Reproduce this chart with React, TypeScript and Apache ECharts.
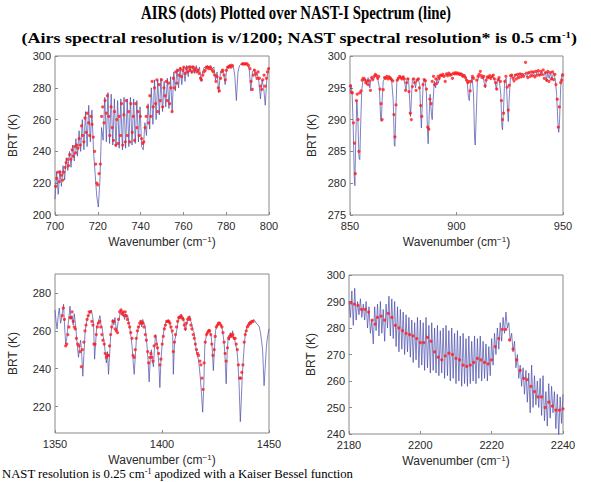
import React, { useEffect, useRef } from "react";
import * as echarts from "echarts";

// ---------- Panel 1: 700-800 cm-1 ----------
const tlStart = 700;
const tlStep = 0.75;
const tlNastBrt = [
  210, 227, 213, 228, 218, 231, 222, 236, 228, 240, 230, 244, 234, 248, 237, 253, 240, 260, 241, 265,
  243, 269, 246, 266, 240, 226, 212, 205, 222, 255, 247, 274, 246, 277, 245, 276, 244, 273, 243, 272,
  242, 273, 241, 274, 242, 273, 243, 274, 244, 273, 245, 272, 246, 268, 243, 241, 258, 250, 270, 254,
  280, 257, 285, 260, 285, 263, 286, 265, 284, 268, 286, 267, 287, 265, 290, 278, 292, 280, 293, 282,
  293, 284, 294, 287, 294, 289, 294, 289, 294, 290, 293, 284, 290, 293, 292, 294, 293, 294, 292, 293,
  285, 290, 277, 289, 292, 290, 282, 292, 294, 294, 295, 294, 288, 272, 290, 294, 295, 295, 295, 295,
  294, 292, 278, 290, 292, 287, 289, 284, 273, 285, 280, 269, 286, 292,
];
const tlAirs = [
  [700.3, 218], [700.8, 223], [701.3, 227], [701.9, 221], [702.4, 227], [703, 225], [703.6, 222], [704.1, 227],
  [704.7, 230], [705.2, 233], [705.8, 235], [706.3, 231], [706.9, 238], [707.4, 235], [708, 241], [708.5, 237],
  [709.1, 243], [709.6, 239], [710.2, 244], [710.7, 242], [711.3, 248], [711.8, 244], [712.4, 256], [712.9, 250],
  [713.5, 246], [714, 261], [714.6, 252], [715.1, 264], [715.7, 258], [716.2, 250], [716.8, 262], [717.3, 257],
  [717.9, 249], [718.5, 240], [719, 232], [719.5, 220], [720, 219], [720.6, 226], [721.2, 232], [721.8, 262],
  [722.3, 268], [722.9, 258], [723.4, 272], [724, 264], [724.5, 275], [725.1, 262], [725.6, 250], [726.2, 268],
  [726.7, 255], [727.3, 247], [727.8, 265], [728.4, 244], [728.9, 260], [729.5, 245], [730, 262], [730.6, 250],
  [731.1, 270], [731.7, 244], [732.2, 263], [732.8, 246], [733.3, 272], [733.9, 250], [734.4, 265], [735, 246],
  [735.5, 270], [736.1, 252], [736.6, 262], [737.2, 247], [737.7, 270], [738.3, 255], [738.8, 265], [739.4, 250],
  [739.9, 262], [740.5, 248], [741, 245], [741.5, 246], [742.1, 255], [742.6, 262], [743.2, 268], [743.7, 258],
  [744.3, 275], [744.8, 262], [745.4, 284], [745.9, 268], [746.5, 280], [747, 270], [747.6, 285], [748.1, 265],
  [748.7, 282], [749.2, 272], [749.8, 285], [750.3, 268], [750.9, 280], [751.4, 275], [752, 284], [752.5, 272],
  [753.1, 283], [753.6, 270], [754.2, 280], [754.7, 265], [755.3, 286], [755.8, 280], [756.4, 290], [756.9, 283],
  [757.5, 291], [758, 288], [758.6, 292], [759.1, 287], [759.7, 291], [760.2, 293], [760.8, 289], [761.3, 292],
  [761.9, 290], [762.4, 293], [763, 291], [763.5, 293], [764.1, 290], [764.6, 293], [765.2, 291], [765.7, 292],
  [766.3, 290], [766.8, 291], [767.4, 289], [768, 286], [768.5, 285], [769.1, 288], [769.6, 290], [770.2, 291],
  [770.7, 293], [771.3, 293], [771.8, 292], [772.4, 293], [772.9, 292], [773.5, 291], [774, 290], [774.6, 288],
  [775.2, 284], [775.7, 287], [776.3, 280], [776.8, 278], [777.4, 286], [777.9, 290], [778.5, 291], [779, 288],
  [779.6, 285], [780.1, 291], [780.7, 293], [781.2, 293], [781.8, 294], [782.3, 293], [782.9, 294], [787.5, 295],
  [788, 295], [788.6, 295], [789.2, 295], [789.8, 295], [790.5, 294], [791.1, 292], [791.6, 284], [792.2, 279],
  [792.7, 288], [793.3, 291], [793.8, 289], [794.4, 286], [794.9, 290], [795.5, 286], [796, 281], [796.6, 279],
  [797.1, 285], [797.7, 288], [798.2, 281], [798.8, 286], [799.3, 290], [799.8, 292],
];

// ---------- Panel 2: 850-950 cm-1 ----------
const trNast = [
  [850, 294.5], [850.5, 295.5], [851, 294], [851.5, 289], [852, 281], [852.3, 279.6], [852.7, 287], [853.2, 293],
  [853.7, 290], [854.2, 284], [854.6, 283.7], [855, 289], [855.5, 294.5], [856, 296], [857, 296.6], [857.8, 295.5],
  [858.5, 296.6], [859.3, 295], [860, 296.7], [861, 296.3], [862, 296.9], [863, 296.5], [863.8, 295], [864.4, 290],
  [864.7, 289.7], [865.1, 293], [865.6, 296], [866.5, 296.7], [867.5, 296.5], [868.5, 296.8], [869.5, 296.3],
  [870.3, 293], [870.8, 286], [871.1, 285.8], [871.5, 291], [872, 296], [873, 296.7], [874, 296.4], [875, 296.8],
  [875.8, 295.5], [876.3, 294.7], [876.8, 296.5], [877.5, 296.4], [878, 293], [878.4, 290.5], [878.8, 293],
  [879.3, 296.5], [880, 296.2], [880.8, 295], [881.3, 296.2], [882, 296.5], [882.7, 295.5], [883.2, 291],
  [883.5, 288.7], [883.9, 292], [884.4, 296], [885.2, 296.4], [885.9, 294], [886.4, 288], [886.7, 286.2],
  [887.1, 290], [887.6, 294], [888.2, 291], [888.6, 290], [889, 293], [889.6, 296], [890.2, 295], [890.8, 296.5],
  [891.5, 295.8], [892.3, 297], [893.5, 296.8], [895, 297], [896.5, 297.2], [898, 297], [899.5, 297.3], [901, 297.2],
  [902.5, 297.3], [904, 297], [905, 296], [905.6, 293.5], [906, 293], [906.5, 295.5], [907.3, 296.7], [908, 294],
  [908.5, 287], [908.8, 286], [909.2, 290], [909.8, 296], [910.5, 296.8], [911.5, 296.5], [912.5, 296.6],
  [913.2, 295.5], [913.6, 295], [914, 296.3], [915, 296.8], [916, 296.5], [917, 296.8], [918, 296.2], [918.7, 294.7],
  [919.2, 296], [920, 296.4], [920.8, 294], [921.3, 289], [921.6, 288.4], [922, 291], [922.6, 296], [923.3, 296.5],
  [923.9, 292], [924.3, 289.7], [924.7, 293], [925.3, 296.5], [926, 297], [927, 296.5], [928, 297.2], [929, 296.6],
  [930, 297.3], [931, 296.8], [932, 297.3], [933, 296.7], [934, 297.4], [935, 297], [936, 297.5], [937, 296.8],
  [938, 297.6], [939, 297], [940, 297.6], [941, 296.9], [941.8, 297.5], [942.3, 296], [942.8, 297.5], [943.5, 296.5],
  [944.2, 297.4], [944.8, 296.2], [945.5, 297.3], [946.3, 296.5], [947, 294], [947.6, 289.5], [948, 288],
  [948.4, 290], [948.9, 295], [949.4, 297.2], [950, 297.3],
];
const trAirs = [
  [850.2, 295.3], [850.6, 294.3], [851.1, 294.2], [851.6, 289.5], [852.1, 286.3], [852.5, 281.5], [853, 293],
  [853.4, 294], [853.8, 290], [854.2, 285], [854.6, 294.2], [855.2, 294.5], [855.7, 296.2], [856.2, 296.5],
  [856.8, 296.3], [857.4, 295.8], [857.9, 296.1], [858.5, 295.5], [859.1, 296.1], [859.6, 294.6], [860.2, 296.6],
  [860.7, 296.3], [861.3, 296.8], [861.9, 297.1], [862.4, 296.9], [863, 296.5], [863.5, 296.8], [864.1, 294.8],
  [864.6, 292.5], [865.1, 290], [865.6, 294.7], [866.2, 296.6], [866.7, 296.5], [867.3, 296.8], [867.9, 296.4],
  [868.4, 296.7], [869, 296.5], [869.5, 296.3], [870.1, 296.1], [870.6, 290.8], [871.1, 287.3], [871.6, 292.3],
  [872.2, 296.2], [872.7, 296.5], [873.3, 296.8], [873.9, 296.6], [874.4, 296.4], [875, 296.7], [875.5, 296.4],
  [876.1, 294.6], [876.6, 295.8], [877.2, 296.4], [877.7, 294.4], [878.3, 291], [878.8, 290], [879.3, 295.2],
  [879.9, 296.4], [880.4, 295.8], [881, 294.6], [881.5, 296.2], [882.1, 296.4], [882.6, 295], [883.2, 292.2],
  [883.7, 290.5], [884.3, 295.5], [884.8, 296.3], [885.4, 296.1], [885.9, 294.8], [886.5, 288.8], [887, 288.5],
  [887.5, 293.2], [888.1, 292.5], [888.6, 296], [889.2, 296.8], [889.7, 295.5], [890.3, 296.4], [890.8, 295.7],
  [891.4, 296.8], [891.9, 296.5], [892.5, 297], [893.1, 296.9], [893.6, 297.1], [894.2, 296.8], [894.7, 296],
  [895.3, 297.2], [895.8, 296.9], [896.4, 297.3], [897, 297], [897.5, 297.1], [898.1, 296.5], [898.6, 297.3],
  [899.2, 297.2], [899.7, 297.4], [900.3, 297.2], [900.8, 297.3], [901.4, 297.1], [901.9, 297.2], [902.5, 297],
  [903, 296.8], [903.6, 296.9], [904.2, 296.6], [904.7, 296.2], [905.3, 295.8], [905.8, 296], [906.4, 294.5],
  [906.9, 296], [907.5, 296.8], [908, 296.5], [909.5, 296.2], [910.1, 296.8], [910.6, 297.1], [911.2, 297.6],
  [911.7, 296.9], [912.3, 296.6], [912.8, 296.8], [913.4, 295.3], [913.9, 296.2], [914.5, 296.7], [915, 296.6],
  [915.6, 296.9], [916.1, 296.5], [916.7, 296.8], [917.3, 297], [917.8, 296.4], [918.4, 295.8], [918.9, 294.8],
  [919.5, 296.3], [920, 296.6], [920.6, 296], [921.1, 293], [921.6, 290], [922.1, 291], [922.7, 296], [923.2, 296.8],
  [923.8, 295.1], [924.3, 291.5], [924.8, 295.4], [925.4, 296.9], [925.9, 297], [926.5, 296.5], [927, 296.1],
  [927.6, 297], [928.1, 296.4], [928.7, 297.1], [929.2, 296.6], [929.8, 297.2], [930.3, 296.7], [930.9, 297.1],
  [931.5, 296.8], [932.4, 299], [932.9, 297.3], [933.5, 296.6], [934, 297.4], [934.6, 296.8], [935.1, 297.5],
  [935.7, 296.9], [936.2, 297.5], [936.8, 296.7], [937.3, 297.6], [937.9, 297], [938.4, 297.7], [939, 297],
  [939.6, 297.6], [940.1, 297.1], [940.7, 297.8], [941.2, 296.5], [941.8, 297.4], [942.3, 296.2], [942.9, 297.6],
  [943.4, 296], [944, 297.4], [944.5, 296.4], [945.1, 297.5], [945.6, 296.3], [946.2, 297.1], [946.7, 295.5],
  [947.3, 293.2], [947.8, 288.8], [948.3, 292], [948.9, 295.8], [949.4, 296.2], [949.9, 297],
];

// ---------- Panel 3: 1350-1450 cm-1 ----------
const blNast = [
  [1350, 271], [1350.5, 265], [1351, 261], [1351.5, 268], [1352, 272], [1352.6, 264], [1353, 266], [1353.5, 270],
  [1354, 274], [1354.5, 262], [1355, 253], [1355.5, 256], [1356, 262], [1356.6, 268], [1357, 273], [1357.5, 266],
  [1358, 268], [1358.5, 263], [1359, 269], [1359.5, 264], [1360, 258], [1360.5, 251], [1361, 246], [1361.5, 252],
  [1362, 255], [1362.5, 247], [1363, 236], [1363.5, 247], [1364, 258], [1364.5, 263], [1365, 266], [1366, 269],
  [1367, 271], [1367.5, 268], [1368, 264], [1368.5, 245], [1369, 254], [1369.5, 262], [1370, 264], [1371, 268],
  [1371.5, 263], [1372, 262], [1372.5, 257], [1373, 254], [1373.5, 248], [1374, 243], [1374.5, 249], [1375, 237],
  [1375.5, 247], [1376, 257], [1376.5, 262], [1377, 266], [1377.5, 263], [1378, 267], [1378.5, 262], [1379, 260],
  [1379.5, 265], [1380, 266], [1380.5, 270], [1381, 271], [1381.5, 268], [1382, 270], [1382.5, 266], [1383, 269],
  [1383.5, 267], [1384, 268], [1384.5, 264], [1385, 261], [1385.5, 257], [1386, 252], [1386.5, 244], [1387, 237],
  [1387.5, 246], [1388, 255], [1388.5, 259], [1389, 262], [1389.5, 263], [1390, 265], [1390.5, 262], [1391, 266],
  [1391.5, 264], [1392, 263], [1392.5, 258], [1393, 252], [1393.5, 244], [1394, 233], [1394.5, 245], [1395, 250],
  [1395.5, 244], [1396, 241], [1396.5, 251], [1397, 258], [1397.5, 255], [1398, 250], [1398.5, 243], [1399, 230],
  [1399.5, 244], [1400, 252], [1400.5, 257], [1401, 261], [1401.5, 263], [1402, 265], [1403, 266], [1403.5, 264],
  [1404, 262], [1404.5, 260], [1405, 257], [1405.3, 237], [1405.7, 250], [1406, 255], [1406.5, 258], [1407, 261],
  [1407.5, 265], [1408, 268], [1408.5, 267], [1409, 268.5], [1409.5, 266], [1410, 267], [1410.5, 263], [1411, 260],
  [1411.5, 264], [1412, 265], [1412.5, 267], [1413, 268], [1413.5, 265], [1414, 263], [1414.5, 260], [1415, 259],
  [1415.5, 254], [1416, 250], [1416.5, 247], [1417, 245], [1417.5, 240], [1418, 234], [1418.5, 226], [1419, 217],
  [1419.5, 230], [1420, 252], [1420.5, 256], [1421, 259], [1421.5, 260], [1422, 261], [1422.5, 259], [1423, 257],
  [1423.5, 250], [1424, 239], [1424.5, 250], [1425, 260], [1425.5, 262], [1426, 263], [1426.5, 264], [1427, 264],
  [1427.5, 263], [1428, 262], [1428.5, 258], [1429, 254], [1429.5, 245], [1430, 232], [1430.5, 250], [1431, 257],
  [1431.5, 255], [1432, 259], [1432.5, 257], [1433, 260], [1433.5, 256], [1434, 255], [1434.5, 252], [1435, 250],
  [1435.5, 243], [1436, 232], [1436.6, 212], [1437, 222], [1437.5, 236], [1438, 245], [1438.5, 253], [1439, 259],
  [1439.5, 261], [1440, 263], [1441, 265], [1442, 265], [1443, 266], [1444, 264], [1445, 263], [1445.5, 262],
  [1446, 259], [1446.5, 255], [1447, 250], [1447.7, 231], [1448.2, 240], [1448.7, 250], [1449, 254], [1449.5, 258],
  [1450, 261],
];
const blAirs = [
  [1353.4, 268], [1353.9, 272], [1354.4, 266], [1355, 252], [1355.5, 253], [1356, 258], [1356.5, 262], [1357, 267],
  [1357.5, 267], [1358, 270], [1358.5, 265], [1359, 262], [1359.5, 261], [1360, 256], [1360.6, 253], [1361.2, 252],
  [1361.7, 249], [1362.3, 241], [1362.8, 250], [1363.5, 254], [1364, 260], [1364.5, 263], [1365, 266], [1365.5, 268],
  [1366, 270], [1366.6, 270], [1367.2, 265], [1367.7, 263], [1368.2, 253], [1368.7, 253], [1369.3, 258], [1369.8, 262],
  [1370.3, 264], [1370.9, 265], [1371.4, 262], [1371.9, 258], [1372.4, 255], [1373, 253], [1373.5, 248], [1374, 246],
  [1374.5, 247], [1375, 247], [1375.5, 252], [1376, 258], [1376.5, 262], [1377, 265], [1377.6, 265], [1378.1, 261],
  [1378.6, 260], [1379.2, 259], [1379.7, 266], [1380.2, 270], [1380.8, 271], [1381.3, 269], [1381.8, 270],
  [1382.3, 268], [1382.8, 270], [1383.3, 268], [1383.8, 266], [1384.4, 264], [1384.9, 262], [1385.4, 259],
  [1386, 256], [1386.5, 247], [1387, 246], [1387.5, 250], [1388, 256], [1388.5, 260], [1389, 262], [1389.6, 264],
  [1390.1, 265], [1390.6, 264], [1391.1, 264], [1391.6, 262], [1392.2, 258], [1392.7, 255], [1393.3, 249],
  [1393.8, 243], [1394.3, 246], [1394.8, 248], [1395.3, 246], [1395.8, 244], [1396.3, 252], [1396.8, 257],
  [1397.4, 253], [1397.9, 251], [1398.4, 248], [1399, 242], [1399.5, 245], [1400.1, 253], [1400.6, 257],
  [1401.1, 261], [1401.6, 263], [1402.2, 265], [1402.7, 265], [1403.2, 265], [1403.7, 264], [1404.2, 262],
  [1404.8, 260], [1405.3, 249], [1405.8, 254], [1406.3, 258], [1406.8, 262], [1407.3, 265], [1407.8, 267],
  [1408.3, 267], [1408.9, 268], [1409.4, 267], [1409.9, 266], [1410.4, 263], [1410.9, 261], [1411.4, 264],
  [1412, 266], [1412.5, 267], [1413, 266], [1413.5, 263], [1414, 261], [1414.6, 258], [1415.1, 256], [1415.6, 253],
  [1416.1, 250], [1416.6, 248], [1417.1, 247], [1417.7, 244], [1418.2, 242], [1418.7, 235], [1419.2, 229],
  [1419.7, 243], [1420.2, 254], [1420.8, 258], [1421.3, 259], [1421.8, 260], [1422.3, 260], [1422.8, 258],
  [1423.3, 253], [1423.8, 247], [1424.4, 250], [1424.9, 257], [1425.4, 262], [1425.9, 263], [1426.4, 264],
  [1426.9, 264], [1427.5, 263], [1428, 262], [1428.5, 259], [1429, 254], [1429.5, 248], [1430, 244], [1430.6, 251],
  [1431.1, 256], [1431.6, 257], [1432.1, 258], [1432.6, 257], [1433.1, 258], [1433.7, 256], [1434.2, 256],
  [1434.7, 253], [1435.2, 250], [1435.7, 242], [1436.3, 235], [1436.8, 235], [1437.3, 238], [1437.8, 242],
  [1438.4, 254], [1438.9, 258], [1439.4, 260], [1439.9, 262], [1440.5, 263], [1441, 264], [1441.5, 264],
  [1442, 265], [1442.6, 265],
];

// ---------- Panel 4: 2180-2240 cm-1 ----------
const brStart = 2180;
const brStep = 0.4;
const brNastBrt = [
  290, 284, 294, 281, 295, 283, 290, 285, 291, 284, 289, 283, 290, 280, 288, 278, 283, 274, 288, 279,
  289, 277, 290, 278, 287, 275, 289, 280, 292, 277, 291, 276, 290, 273, 288, 271, 287, 272, 286, 270,
  285, 271, 284, 269, 283, 267, 282, 268, 284, 265, 283, 266, 282, 264, 284, 265, 281, 263, 282, 264,
  280, 263, 281, 262, 279, 263, 280, 261, 281, 262, 279, 260, 280, 261, 278, 259, 279, 260, 277, 258,
  278, 259, 276, 258, 277, 259, 275, 260, 277, 259, 276, 261, 277, 260, 275, 261, 274, 260, 273, 262,
  276, 266, 278, 270, 280, 272, 282, 275, 284, 278, 286, 280, 282, 275, 278, 271, 275, 265, 270, 261,
  266, 258, 265, 255, 264, 252, 263, 248, 266, 250, 262, 251, 260, 250, 261, 247, 262, 245, 256, 243,
  259, 246, 258, 248, 256, 242, 255, 239, 254, 244, 255,
];
const brAirs = [
  [2180.5, 289.5], [2181.5, 289], [2182.5, 288.5], [2183.5, 287], [2184.5, 287], [2185.5, 286], [2186.5, 283],
  [2187.3, 281.5], [2188, 284], [2189, 284.5], [2190, 283], [2191, 285.5], [2192, 284], [2193, 281], [2194, 280],
  [2195, 279], [2196, 278], [2197, 277.5], [2198, 277], [2199, 276], [2200, 274.5], [2201, 274.5], [2202, 276.5],
  [2203, 275], [2204, 271], [2205, 269], [2206, 268], [2207, 269.5], [2208, 270.5], [2209, 270], [2210, 268.5],
  [2211, 268], [2212, 266], [2213, 265.5], [2214, 266], [2215, 267], [2216, 268.5], [2217, 268], [2218, 267],
  [2219, 266.5], [2220, 268], [2221, 273], [2222, 276], [2223, 279.5], [2224, 279.5], [2225, 275.5], [2226, 272],
  [2227, 268], [2228, 264], [2229, 261], [2230, 260.5], [2231, 258], [2232, 256], [2233, 254], [2234, 254],
  [2235, 250], [2236, 252], [2237, 250.5], [2238, 249], [2239, 249], [2240, 249.5],
];

// ---------- tick labels ----------
const tlXTicks = [700, 720, 740, 760, 780, 800];
const tlYTicks = [200, 220, 240, 260, 280, 300];
const trXTicks = [850, 900, 950];
const trYTicks = [275, 280, 285, 290, 295, 300];
const blXTicks = [1350, 1400, 1450];
const blYTicks = [220, 240, 260, 280];
const brXTicks = [2180, 2200, 2220, 2240];
const brYTicks = [240, 250, 260, 270, 280, 290, 300];

const titleText = "AIRS (dots) Plotted over NAST-I Spectrum (line)";
const subtitleText = "(Airs spectral resolution is \u03bd/1200; NAST spectral resolution* is 0.5 cm{sup|-1})";
const footerText = "NAST resolution is 0.25 cm{sup|-1} apodized with a Kaiser Bessel function";
const xName = "Wavenumber (cm{sup|\u22121})";
const yName = "BRT (K)";

export default function App() {
  const ref = useRef<HTMLDivElement>(null);
  useEffect(() => {
    document.body.style.margin = "0";
    const chart = echarts.init(ref.current!, null, { renderer: "svg" });

    const grids = [
      { left: 55, top: 56, width: 214, height: 159 },
      { left: 350, top: 56, width: 213, height: 159 },
      { left: 55, top: 274, width: 214, height: 159 },
      { left: 349, top: 275, width: 214, height: 159 },
    ];
    const ranges = [
      { x: [700, 800], y: [200, 300], xt: tlXTicks, yt: tlYTicks, yGap: 36 },
      { x: [850, 950], y: [275, 300], xt: trXTicks, yt: trYTicks, yGap: 32 },
      { x: [1350, 1450], y: [206, 290], xt: blXTicks, yt: blYTicks, yGap: 36 },
      { x: [2180, 2240], y: [240, 300], xt: brXTicks, yt: brYTicks, yGap: 32 },
    ];
    const labelFont = { fontFamily: "Liberation Sans, Arial, sans-serif", fontSize: 11, color: "#2a2a2a" };
    const tickStyle = { color: "#8a8a8a", width: 1 };
    const plain = (v: number) => String(v);

    const xAxes = ranges.map((r, i) => ({
      type: "value",
      gridIndex: i,
      min: r.x[0],
      max: r.x[1],
      axisLine: { show: false },
      splitLine: { show: false },
      axisTick: { show: true, inside: true, length: 3, lineStyle: tickStyle, customValues: r.xt },
      axisLabel: { ...labelFont, margin: 5, customValues: r.xt, formatter: plain },
      name: xName,
      nameLocation: "middle",
      nameGap: 20,
      nameTextStyle: {
        ...labelFont,
        fontSize: 12,
        rich: { sup: { fontSize: 8, verticalAlign: "top", padding: [0, 0, 6, 0], color: "#2a2a2a", fontFamily: "Liberation Sans, Arial, sans-serif" } },
      },
    }));
    const yAxes = ranges.map((r, i) => ({
      type: "value",
      gridIndex: i,
      min: r.y[0],
      max: r.y[1],
      axisLine: { show: false },
      splitLine: { show: false },
      axisTick: { show: true, inside: true, length: 3, lineStyle: tickStyle, customValues: r.yt },
      axisLabel: { ...labelFont, margin: 4, customValues: r.yt, formatter: plain },
      name: yName,
      nameLocation: "middle",
      nameRotate: 90,
      nameGap: r.yGap,
      nameTextStyle: { ...labelFont, fontSize: 12 },
    }));

    const tlLine = tlNastBrt.map((v, i) => [tlStart + i * tlStep, v]);
    const brLine = brNastBrt.map((v, i) => [brStart + i * brStep, v]);
    const lines = [tlLine, trNast, blNast, brLine];
    const dots = [tlAirs, trAirs, blAirs, brAirs];

    const series: any[] = [];
    lines.forEach((d, i) => {
      series.push({
        type: "line",
        xAxisIndex: i,
        yAxisIndex: i,
        data: d,
        symbol: "none",
        showSymbol: false,
        silent: true,
        lineStyle: { color: "#4246a8", width: 0.85, opacity: 0.8 },
        z: 2,
      });
    });
    dots.forEach((d, i) => {
      series.push({
        type: "scatter",
        xAxisIndex: i,
        yAxisIndex: i,
        data: d,
        symbol: "circle",
        symbolSize: 3.2,
        silent: true,
        itemStyle: { color: "#ff1a1a" },
        z: 3,
      });
    });

    const serif = "Liberation Serif, Times New Roman, serif";
    const option: any = {
      animation: false,
      backgroundColor: "#ffffff",
      grid: grids.map((g) => ({ ...g, show: true, borderColor: "#8a8a8a", borderWidth: 1, backgroundColor: "transparent" })),
      xAxis: xAxes,
      yAxis: yAxes,
      series,
      graphic: [
        {
          type: "text",
          x: 296,
          y: 13,
          scaleX: 0.78,
          style: {
            text: titleText,
            fontFamily: serif,
            fontWeight: "bold",
            fontSize: 19,
            fill: "#000",
            align: "center",
            verticalAlign: "middle",
          },
        },
        {
          type: "text",
          x: 299,
          y: 38,
          scaleX: 1.2,
          style: {
            text: subtitleText,
            fontFamily: serif,
            fontWeight: "bold",
            fontSize: 15,
            fill: "#000",
            align: "center",
            verticalAlign: "middle",
            rich: {
              sup: { fontSize: 9, fontWeight: "bold", fontFamily: serif, verticalAlign: "top", padding: [0, 0, 7, 0], fill: "#000" },
            },
          },
        },
        {
          type: "text",
          x: 2,
          y: 474,
          style: {
            text: footerText,
            fontFamily: serif,
            fontSize: 12.7,
            fill: "#000",
            align: "left",
            verticalAlign: "middle",
            rich: {
              sup: { fontSize: 8, fontFamily: serif, verticalAlign: "top", padding: [0, 0, 6, 0], fill: "#000" },
            },
          },
        },
      ],
    };
    chart.setOption(option);
    return () => chart.dispose();
  }, []);
  return <div ref={ref} style={{ width: 591, height: 482 }} />;
}
